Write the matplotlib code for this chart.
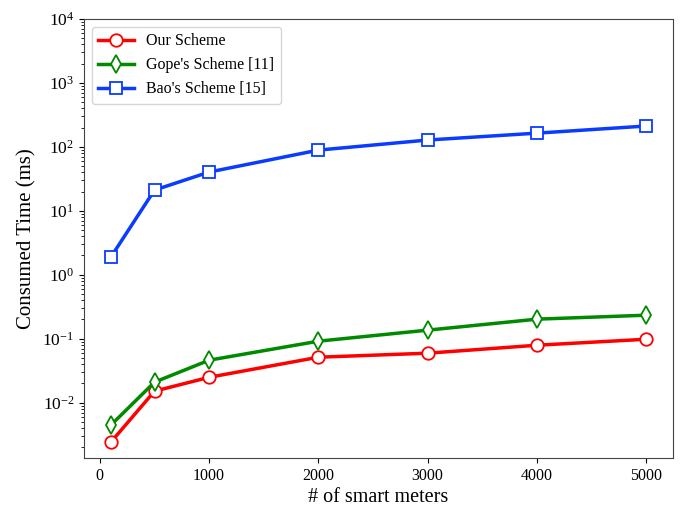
import matplotlib
matplotlib.use('Agg')
import matplotlib.pyplot as plt

plt.rcParams['font.family'] = ['Liberation Serif', 'DejaVu Serif']
plt.rcParams['mathtext.fontset'] = 'stix'

# number of smart meters
meters = [100, 500, 1000, 2000, 3000, 4000, 5000]

# consumed time in ms
our_scheme  = [0.0024, 0.0151, 0.0249, 0.0513, 0.0593, 0.079, 0.098]
gope_scheme = [0.00443, 0.0209, 0.0461, 0.0914, 0.136, 0.202, 0.233]
bao_scheme  = [1.88, 21.1, 40.4, 89, 128, 164, 212]

fig = plt.figure(figsize=(6.82, 5.11), dpi=100)
ax = fig.add_axes([0.1232, 0.1037, 0.8636, 0.8591])

style = dict(lw=2.5, ms=9, mfc='white', mew=1.3)
ax.plot(meters, our_scheme,  '-o', color='#ff0000', label='Our Scheme', **style)
ax.plot(meters, gope_scheme, '-d', color='#008a00', label="Gope's Scheme [11]", **style)
ax.plot(meters, bao_scheme,  '-s', color='#0a3cff', label="Bao's Scheme [15]", **style)

ax.set_yscale('log')
ax.set_ylim(1.36e-3, 1e4)
ax.set_xlim(-145, 5245)
ax.set_xticks([0, 1000, 2000, 3000, 4000, 5000])

ax.set_xlabel('# of smart meters', fontsize=14.5, labelpad=3)
ax.set_ylabel('Consumed Time (ms)', fontsize=15)
ax.tick_params(axis='x', labelsize=11.5)
ax.tick_params(axis='y', labelsize=12.5)
for s in ax.spines.values():
    s.set_color('#444444')

ax.legend(loc='upper left', fontsize=11.5, handlelength=2.2)

fig.savefig('out.png', dpi=100)
